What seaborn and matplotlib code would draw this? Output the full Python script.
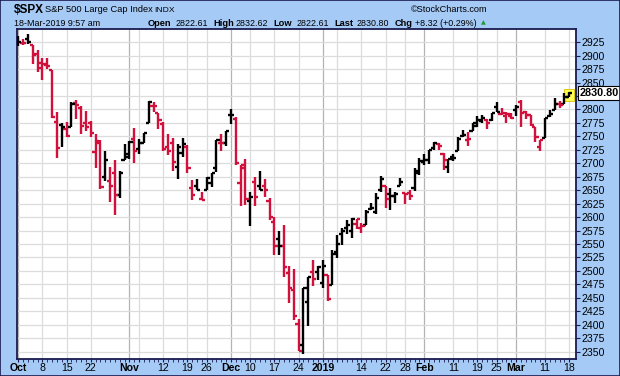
import numpy as np
import pandas as pd
import matplotlib
matplotlib.use("Agg")
import matplotlib.pyplot as plt
import matplotlib.transforms as mtransforms
from matplotlib.patches import Rectangle
import seaborn as sns

# ---------------- data ----------------
holidays = ["2018-11-22", "2018-12-05", "2018-12-25", "2019-01-01", "2019-01-21", "2019-02-18"]
dates = pd.bdate_range("2018-10-01", "2019-03-18", freq="C", holidays=holidays)

opens = [
    2926.29, 2923.80, 2931.69, 2919.35, 2902.54, 2877.53, 2882.51, 2873.90, 2776.87, 2770.54, 2763.83, 2767.05,
    2811.67, 2802.00, 2775.66, 2773.94, 2721.03, 2737.87, 2674.88, 2667.86, 2682.65, 2640.68, 2705.60,
    2717.58, 2745.45, 2726.37, 2738.40, 2774.13, 2806.38, 2794.10, 2773.93, 2730.05, 2737.90, 2693.52, 2718.54,
    2730.74, 2654.60, 2657.74, 2633.36, 2649.97, 2663.75, 2691.45, 2736.97, 2737.76,
    2790.50, 2782.43, 2663.51, 2691.26, 2630.86, 2664.44, 2658.23, 2658.70, 2629.68, 2590.75, 2559.90, 2547.05,
    2496.77, 2465.38, 2400.56, 2363.12, 2442.50, 2498.77, 2498.94,
    2476.96, 2491.92, 2474.33, 2535.61, 2568.11, 2580.00, 2573.51, 2588.11, 2580.31, 2585.10, 2614.75, 2609.28,
    2651.27, 2657.88, 2643.48, 2638.84, 2657.44, 2644.97, 2644.89, 2653.62, 2685.49,
    2702.32, 2706.49, 2728.34, 2735.05, 2717.53, 2692.36, 2712.40, 2722.61, 2750.30, 2743.50, 2760.24, 2769.28,
    2779.05, 2780.24, 2780.67, 2804.35, 2792.36, 2787.50, 2788.11,
    2798.22, 2814.37, 2794.41, 2790.27, 2766.53, 2730.79, 2747.61, 2787.34, 2799.78, 2811.02, 2810.79, 2822.61,
]
highs = [
    2937.06, 2931.42, 2939.86, 2919.78, 2909.64, 2894.83, 2894.70, 2874.02, 2795.14, 2775.77, 2775.99, 2813.46,
    2816.94, 2806.04, 2797.77, 2778.94, 2753.59, 2742.59, 2722.70, 2692.38, 2706.85, 2685.43, 2736.69,
    2741.67, 2766.28, 2744.27, 2756.82, 2815.15, 2814.75, 2794.10, 2775.99, 2754.60, 2746.80, 2735.38, 2746.75,
    2733.16, 2669.44, 2670.73, 2647.55, 2674.35, 2682.53, 2744.00, 2753.75, 2760.88,
    2800.18, 2785.93, 2696.15, 2708.54, 2647.51, 2674.35, 2685.44, 2670.19, 2635.07, 2601.13, 2573.99, 2585.29,
    2509.63, 2504.41, 2410.34, 2467.76, 2489.10, 2520.27, 2509.24,
    2519.49, 2493.14, 2538.07, 2566.16, 2579.82, 2595.32, 2597.82, 2596.27, 2589.32, 2613.08, 2625.76, 2645.06,
    2675.47, 2657.88, 2653.19, 2647.20, 2672.38, 2644.97, 2650.93, 2690.44, 2708.95,
    2716.66, 2724.99, 2738.98, 2738.08, 2719.32, 2708.07, 2718.05, 2748.19, 2761.85, 2757.90, 2775.66, 2787.33,
    2789.88, 2781.58, 2794.20, 2813.49, 2803.12, 2795.76, 2793.73,
    2808.02, 2816.88, 2796.44, 2790.27, 2767.25, 2744.13, 2784.00, 2798.32, 2821.24, 2815.00, 2830.73, 2832.62,
]
lows = [
    2917.91, 2919.37, 2921.36, 2883.92, 2869.29, 2855.04, 2874.27, 2784.86, 2710.51, 2729.44, 2749.03, 2766.91,
    2781.81, 2755.18, 2760.27, 2749.22, 2691.43, 2651.89, 2667.84, 2628.16, 2603.54, 2635.34, 2705.60,
    2708.85, 2699.96, 2717.94, 2737.08, 2774.13, 2794.99, 2764.24, 2722.00, 2714.98, 2685.75, 2670.75, 2712.16,
    2681.09, 2631.52, 2649.82, 2631.09, 2649.97, 2655.89, 2684.38, 2722.94, 2732.76,
    2773.38, 2697.18, 2621.53, 2623.14, 2583.23, 2621.30, 2650.26, 2637.27, 2593.84, 2530.54, 2528.71, 2488.96,
    2441.18, 2408.55, 2351.10, 2346.58, 2397.94, 2472.89, 2482.82,
    2467.47, 2443.96, 2474.33, 2524.56, 2547.56, 2568.89, 2562.02, 2577.40, 2570.41, 2585.10, 2612.68, 2606.36,
    2647.58, 2617.27, 2612.86, 2627.01, 2657.33, 2624.06, 2631.05, 2648.34, 2678.65,
    2696.88, 2698.75, 2724.03, 2724.15, 2687.26, 2681.83, 2703.79, 2722.61, 2748.63, 2731.23, 2760.24, 2767.29,
    2774.06, 2764.55, 2779.11, 2794.99, 2789.47, 2775.13, 2782.51,
    2787.38, 2767.66, 2782.97, 2768.69, 2739.09, 2722.27, 2747.61, 2786.73, 2799.78, 2803.46, 2810.79, 2822.61,
]
closes = [
    2924.59, 2923.43, 2925.51, 2901.61, 2885.57, 2884.43, 2880.34, 2785.68, 2728.37, 2767.13, 2750.79, 2809.92,
    2809.21, 2768.78, 2767.78, 2755.88, 2740.69, 2656.10, 2705.57, 2658.69, 2641.25, 2682.63, 2711.74,
    2740.37, 2723.06, 2738.31, 2755.45, 2813.89, 2806.83, 2781.01, 2726.22, 2722.18, 2701.58, 2730.20, 2736.27,
    2690.73, 2641.89, 2649.93, 2632.56, 2673.45, 2682.17, 2743.79, 2737.80, 2760.17,
    2790.37, 2700.06, 2695.95, 2633.08, 2637.72, 2636.78, 2651.07, 2650.54, 2599.95, 2545.94, 2546.16, 2506.96,
    2467.42, 2416.62, 2351.10, 2467.70, 2488.83, 2485.74, 2506.85,
    2510.03, 2447.89, 2531.94, 2549.69, 2574.41, 2584.96, 2596.64, 2596.26, 2582.61, 2610.30, 2616.10, 2635.96,
    2670.71, 2632.90, 2638.70, 2642.33, 2664.76, 2643.85, 2640.00, 2681.05, 2704.10,
    2706.53, 2724.87, 2737.70, 2731.61, 2706.05, 2707.88, 2709.80, 2744.73, 2753.03, 2745.73, 2775.60, 2779.76,
    2784.70, 2774.88, 2792.67, 2796.11, 2793.90, 2792.38, 2784.49,
    2803.69, 2792.81, 2789.65, 2771.45, 2748.93, 2743.07, 2783.30, 2791.52, 2810.92, 2808.48, 2822.48, 2830.80,
]
prev_close_start = 2913.98

tick_dates = ["2018-10-01", "2018-10-08", "2018-10-15", "2018-10-22", "2018-11-01", "2018-11-05",
              "2018-11-12", "2018-11-19", "2018-11-26", "2018-12-03", "2018-12-10", "2018-12-17",
              "2018-12-24", "2019-01-02", "2019-01-07", "2019-01-14", "2019-01-22", "2019-01-28",
              "2019-02-01", "2019-02-11", "2019-02-19", "2019-02-25", "2019-03-01", "2019-03-11",
              "2019-03-18"]
tick_labels = ["Oct", "8", "15", "22", "Nov", "", "12", "19", "26", "Dec", "10", "17", "24", "2019", "",
               "14", "22", "28", "Feb", "11", "19", "25", "Mar", "11", "18"]
month_labels = {"Oct", "Nov", "Dec", "2019", "Feb", "Mar"}
y_ticks = list(range(2350, 2926, 25))
y_hidden = {2825}  # covered by the last-price tag in the reference

df = pd.DataFrame({"date": dates, "open": opens, "high": highs, "low": lows, "close": closes})
df["idx"] = np.arange(len(df))
prev = np.r_[prev_close_start, df["close"].values[:-1]]
RED = "#D2103C"
df["color"] = np.where(df["close"].values < prev, RED, "black")

# ---------------- style ----------------
BLUE = "#A5CAF6"
NAVY = "#1A1A4E"
sns.set_theme(style="white")
plt.rcParams["font.family"] = ["Liberation Sans", "DejaVu Sans"]

fig = plt.figure(figsize=(6.2, 3.76), dpi=100, facecolor=BLUE)
L, R, T, Bt = 16.5, 576.0, 29.0, 359.0
ax = fig.add_axes([L / 620, 1 - Bt / 376, (R - L) / 620, (Bt - T) / 376])
ax.set_facecolor("white")

# gridlines
pos_map = {d.strftime("%Y-%m-%d"): i for i, d in enumerate(df["date"])}
tick_pos = [pos_map[d] for d in tick_dates]
for p, lab in zip(tick_pos, tick_labels):
    ax.axvline(p, color="#B4B4B4" if lab in month_labels else "#DCDCDC", lw=0.9, zorder=0)
for yv in y_ticks:
    ax.axhline(yv, color="#DCDCDC", lw=0.9, zorder=0)

# OHLC bars
x = df["idx"].values
lw = 1.7
ax.vlines(x, df["low"], df["high"], colors=df["color"], lw=lw, zorder=3)
ax.hlines(df["open"], x - 0.66, x, colors=df["color"], lw=lw, zorder=3)
ax.hlines(df["close"], x, x + 0.66, colors=df["color"], lw=lw, zorder=3)

# last bar highlight
last = df.iloc[-1]
mid = (last["high"] + last["low"]) / 2
ax.add_patch(Rectangle((last["idx"] - 1.0, mid - 11), 2.0, 22, facecolor="#FFFF55",
                       edgecolor="#D8C000", lw=0.6, zorder=2))

ax.set_xlim(-0.37, len(df) - 1 + 1.39)
ax.set_ylim(2336.4, 2949.5)

# axes formatting
for s in ax.spines.values():
    s.set_color(NAVY)
    s.set_linewidth(1.3)
ax.yaxis.tick_right()
ax.set_yticks(y_ticks)
ax.set_yticklabels(["" if v in y_hidden else str(v) for v in y_ticks])
ax.tick_params(axis="y", which="major", direction="out", length=3, width=0.8, color=NAVY,
               labelsize=7.6, pad=1, right=True, left=False, labelcolor="black")
ax.set_xticks(tick_pos)
ax.set_xticklabels(tick_labels)
ax.set_xticks(x, minor=True)
ax.tick_params(axis="x", which="major", direction="out", length=2, width=0.8, color=NAVY,
               labelsize=7.6, pad=1, bottom=True, labelcolor="black")
ax.tick_params(axis="x", which="minor", direction="out", length=2, width=0.6, color=NAVY, bottom=True)
for t in ax.get_xticklabels():
    if t.get_text() in month_labels:
        t.set_fontweight("bold")
ax.set_xlabel("")
ax.set_ylabel("")

# last price tag
trans = mtransforms.blended_transform_factory(ax.transAxes, ax.transData)
ax.text(1.007, last["close"], f"{last['close']:.2f}", transform=trans, ha="left", va="center",
        fontsize=7.8, fontweight="bold", color="black", clip_on=False, zorder=10,
        bbox=dict(boxstyle="square,pad=0.18", facecolor="white", edgecolor="black", lw=0.8))

# header
def ftext(px, py, s, **kw):
    fig.text(px / 620, 1 - py / 376, s, va="baseline", ha="left", color="black", **kw)

ftext(14, 12.7, "$SPX", fontsize=8.5, fontweight="bold")
ftext(45, 12.5, "S&P 500 Large Cap Index", fontsize=6.7)
ftext(154.5, 12.5, "INDX", fontsize=6.1)
ftext(411, 12.5, "©StockCharts.com", fontsize=6.6)
ftext(14, 25.5, "18-Mar-2019 9:57 am", fontsize=6.4)
ftext(148, 25.5, "Open", fontsize=6.7, fontweight="bold")
ftext(175.5, 25.5, "2822.61", fontsize=6.4)
ftext(213, 25.5, "High", fontsize=6.7, fontweight="bold")
ftext(236, 25.5, "2832.62", fontsize=6.4)
ftext(273, 25.5, "Low", fontsize=6.7, fontweight="bold")
ftext(296.5, 25.5, "2822.61", fontsize=6.4)
ftext(334, 25.5, "Last", fontsize=6.7, fontweight="bold")
ftext(357, 25.5, "2830.80", fontsize=6.4)
ftext(395, 25.5, "Chg", fontsize=6.7, fontweight="bold")
ftext(415, 25.5, "+8.32 (+0.29%)", fontsize=6.4)
fig.text(483 / 620, 1 - 24.5 / 376, "▲", fontsize=4.5, color="#1E9A2E", ha="center", va="baseline",
         family=["DejaVu Sans"])

# outer border
fig.patches.append(Rectangle((0, 0), 1, 1, transform=fig.transFigure, fill=False,
                             edgecolor=NAVY, lw=1.2))

fig.savefig("out.png", dpi=100, facecolor=BLUE)
